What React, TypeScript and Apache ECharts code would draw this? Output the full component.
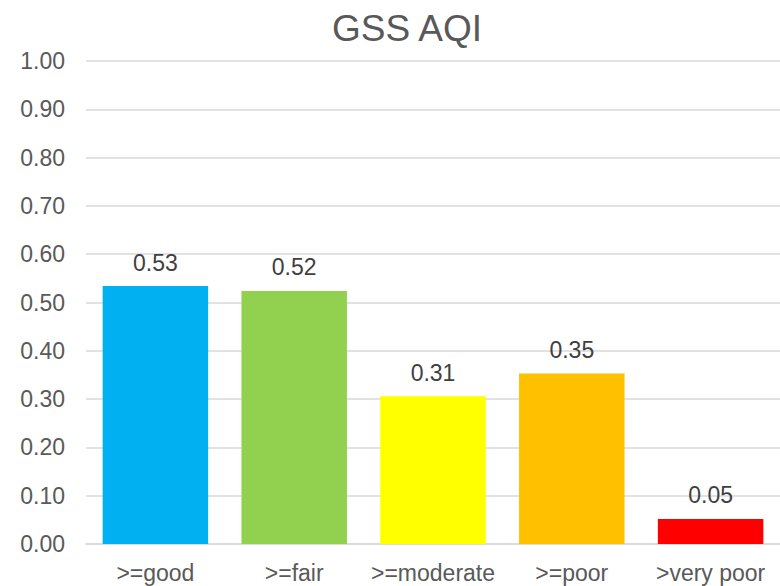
import React, { useEffect, useRef } from "react";
import * as echarts from "echarts";

const categories = [">=good", ">=fair", ">=moderate", ">=poor", ">very poor"];
const values = [0.534, 0.524, 0.306, 0.353, 0.052];
const barColors = ["#00B0F0", "#92D050", "#FFFF00", "#FFC000", "#FF0000"];
const titleText = "GSS AQI";

export default function App() {
  const ref = useRef<HTMLDivElement>(null);
  useEffect(() => {
    if (!ref.current) return;
    const chart = echarts.init(ref.current, undefined, { renderer: "svg" });
    const font = "'Liberation Sans', Arial, sans-serif";
    chart.setOption({
      animation: false,
      backgroundColor: "#ffffff",
      textStyle: { fontFamily: font },
      title: {
        text: titleText,
        left: 402,
        top: 5,
        textAlign: "center",
        textStyle: { fontFamily: font, fontSize: 37, fontWeight: "normal", color: "#595959" },
      },
      grid: { left: 86, right: 0, top: 61, bottom: 42, containLabel: false },
      xAxis: {
        type: "category",
        data: categories,
        axisLine: { show: true, lineStyle: { color: "#D9D9D9", width: 1.5 } },
        axisTick: { show: false },
        axisLabel: { fontFamily: font, fontSize: 23, color: "#595959", margin: 17, interval: 0, hideOverlap: false },
      },
      yAxis: {
        type: "value",
        min: 0,
        max: 1,
        interval: 0.1,
        axisLine: { show: false },
        axisTick: { show: false },
        splitLine: { lineStyle: { color: "#D9D9D9", width: 1.5 } },
        axisLabel: {
          fontFamily: font,
          fontSize: 23,
          color: "#595959",
          margin: 21,
          formatter: (v: number) => v.toFixed(2),
        },
      },
      series: [
        {
          type: "bar",
          barWidth: "76%",
          data: values.map((v, i) => ({ value: v, itemStyle: { color: barColors[i] } })),
          label: {
            show: true,
            position: "top",
            distance: 12,
            fontFamily: font,
            fontSize: 23,
            color: "#404040",
            formatter: (p: any) => Number(p.value).toFixed(2),
          },
        },
      ],
    });
    return () => chart.dispose();
  }, []);
  return (
    <div
      ref={ref}
      style={{ position: "fixed", left: 0, top: 0, width: 780, height: 586 }}
    />
  );
}
